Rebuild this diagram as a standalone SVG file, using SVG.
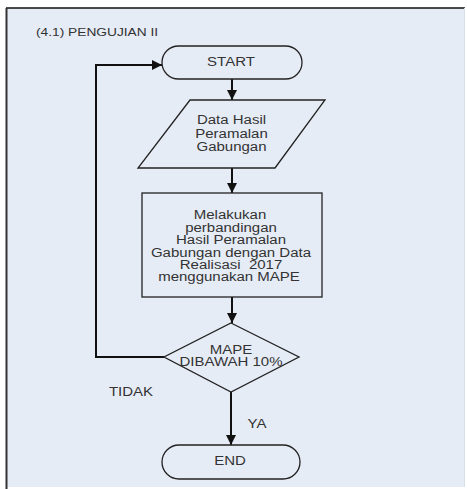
<svg xmlns="http://www.w3.org/2000/svg" width="467" height="489" viewBox="0 0 467 489">
<style>
.t{font-family:"Liberation Sans",Arial,sans-serif;font-size:12px;fill:#333;text-anchor:middle}
.s{fill:none;stroke:#222;stroke-width:1.3}
.c{fill:none;stroke:#111;stroke-width:2}
</style>
<defs>
<marker id="ah" viewBox="0 0 10 10" refX="10" refY="5" markerWidth="10" markerHeight="10" markerUnits="userSpaceOnUse" orient="auto">
<path d="M0,0 L10,5 L0,10 z" fill="#111"/>
</marker>
</defs>
<rect x="0" y="0" width="467" height="489" fill="#ffffff"/>
<rect x="6" y="8" width="459" height="479" fill="#e6ecf6"/>
<line x1="6" y1="8" x2="465" y2="8" stroke="#111" stroke-width="1.5"/>
<line x1="6.5" y1="8" x2="6.5" y2="489" stroke="#333" stroke-width="2"/>
<line x1="464.5" y1="8" x2="464.5" y2="487" stroke="#d8dfea" stroke-width="1"/>
<text class="t" x="0" y="0" style="text-anchor:start;font-size:11px" transform="translate(36,36) scale(1.25,1)">(4.1) PENGUJIAN II</text>
<g id="connectors">
<line class="c" x1="232" y1="79" x2="232" y2="100" marker-end="url(#ah)"/>
<line class="c" x1="232" y1="168" x2="232" y2="193" marker-end="url(#ah)"/>
<line class="c" x1="232" y1="297" x2="232" y2="323" marker-end="url(#ah)"/>
<line class="c" x1="231" y1="392" x2="231" y2="445" marker-end="url(#ah)"/>
<polyline class="c" points="164,357 96,357 96,65 162,65" marker-end="url(#ah)"/>
<text class="t" x="0" y="0" transform="translate(131,396) scale(1.25,1)">TIDAK</text>
<text class="t" x="0" y="0" transform="translate(257,428) scale(1.25,1)">YA</text>
</g>
<g id="start">
<rect class="s" x="162" y="46" width="140" height="33" rx="16.5"/>
<text class="t" x="0" y="0" transform="translate(231,66) scale(1.25,1)">START</text>
</g>
<g id="data">
<polygon class="s" points="190,100 325,100 275,168 138,168"/>
<text class="t" x="0" y="0" transform="translate(231.5,124) scale(1.25,1)">Data Hasil</text>
<text class="t" x="0" y="0" transform="translate(231.5,138) scale(1.25,1)">Peramalan</text>
<text class="t" x="0" y="0" transform="translate(231.5,151) scale(1.25,1)">Gabungan</text>
</g>
<g id="process">
<rect class="s" x="142" y="193" width="180" height="104"/>
<text class="t" x="0" y="0" transform="translate(230,219) scale(1.25,1)">Melakukan</text>
<text class="t" x="0" y="0" transform="translate(231,232) scale(1.25,1)">perbandingan</text>
<text class="t" x="0" y="0" transform="translate(231,244) scale(1.25,1)">Hasil Peramalan</text>
<text class="t" x="0" y="0" transform="translate(231,257) scale(1.25,1)">Gabungan dengan Data</text>
<text class="t" x="0" y="0" xml:space="preserve" transform="translate(231,269) scale(1.25,1)">Realisasi  2017</text>
<text class="t" x="0" y="0" transform="translate(229,281) scale(1.25,1)">menggunakan MAPE</text>
</g>
<g id="decision">
<polygon class="s" points="231,323 299,357 231,392 164,357"/>
<text class="t" x="0" y="0" transform="translate(231,354) scale(1.25,1)">MAPE</text>
<text class="t" x="0" y="0" transform="translate(231,366) scale(1.25,1)">DIBAWAH 10%</text>
</g>
<g id="end">
<rect class="s" x="162" y="445" width="138" height="34" rx="17"/>
<text class="t" x="0" y="0" transform="translate(230,465) scale(1.25,1)">END</text>
</g>
</svg>
